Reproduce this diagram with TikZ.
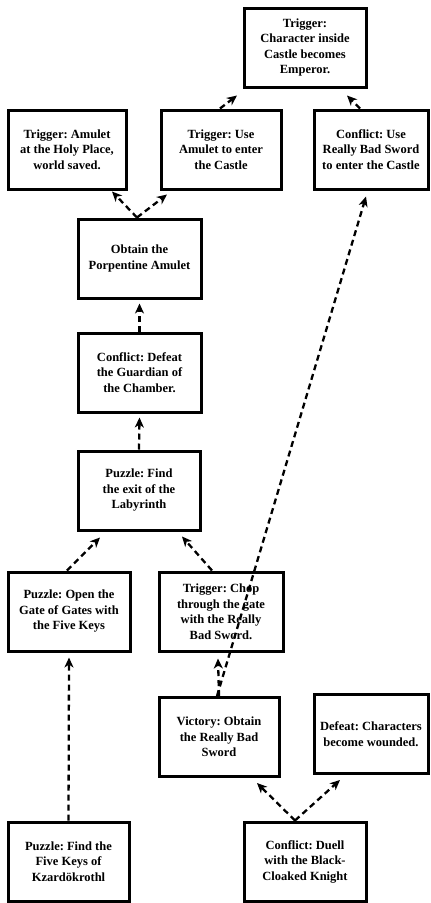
\documentclass[tikz,border=0pt]{standalone}
\usepackage{fontspec}
\setmainfont{Liberation Serif}
\usetikzlibrary{calc,arrows.meta}
\frenchspacing
\tikzset{
  box/.style={draw=black, line width=3pt, fill=white, align=center,
    font=\bfseries\fontsize{12.5}{15.5}\selectfont, inner sep=2pt,
    minimum width=#1, minimum height=79pt},
  box/.default=121pt,
  arr/.style={line width=2.3pt, dash pattern=on 6pt off 4pt,
    -{Stealth[length=10pt,width=9pt,inset=3pt]}}
}
\begin{document}
\begin{tikzpicture}[x=1pt,y=-1pt]
\fill[white] (0,0) rectangle (431,903);
\useasboundingbox (0,0) rectangle (431,903);

\node[box=122pt] (top) at (305,47.5) {Trigger:\\Character inside\\Castle becomes\\Emperor.};
\node[box=118pt] (holy) at (67,149.5) {Trigger: Amulet\\at the Holy Place,\\world saved.};
\node[box=120pt] (useam) at (221,149.5) {Trigger: Use\\Amulet to enter\\the Castle};
\node[box=114pt] (usesw) at (371,149.5) {Conflict: Use\\Really Bad Sword\\to enter the Castle};
\node[box=123pt] (obtain) at (139.5,258.5) {Obtain the\\Porpentine Amulet};
\node[box=123pt] (defeatg) at (139.5,372.5) {Conflict: Defeat\\the Guardian of\\the Chamber.};
\node[box=122pt] (labyr) at (139,490.5) {Puzzle: Find\\the exit of the\\Labyrinth};
\node[box=122pt] (gate) at (69,611.5) {Puzzle: Open the\\Gate of Gates with\\the Five Keys};
\node[box=124pt] (chop) at (221,611.5) {Trigger: Chop\\through the gate\\with the Really\\Bad Sword.};
\node[box=120pt] (victory) at (219,737) {Victory: Obtain\\the Really Bad\\Sword};
\node[box=114pt] (defeatc) at (371,734) {Defeat: Characters\\become wounded.};
\node[box=121pt] (keys) at (68.5,861.5) {Puzzle: Find the\\Five Keys of\\Kzardökrothl};
\node[box=122pt] (duell) at (305,861.5) {Conflict: Duell\\with the Black-\\Cloaked Knight};

\draw[arr] ($(obtain.north)+(-2.5,0)$) -- ($(holy.south)+(45,1)$);
\draw[arr] ($(obtain.north)+(-2.5,0)$) -- ($(useam.south)+(-54,4)$);
\draw[arr] ($(useam.north)+(-1,0)$) -- ($(top.south)+(-68,7)$);
\draw[arr] ($(usesw.north)+(-11,0)$) -- ($(top.south)+(42,7)$);
\draw[arr] ($(victory.north)+(-2,0)$) -- ($(usesw.south)+(-5,6)$);
\draw[arr] (victory.north) -- ($(chop.south)+(-3,6)$);
\draw[arr] ($(chop.north)+(-9,0)$) -- ($(labyr.south)+(43,5)$);
\draw[arr] ($(gate.north)+(-2,0)$) -- ($(labyr.south)+(-39,6)$);
\draw[arr] (keys.north) -- ($(gate.south)+(0,5)$);
\draw[arr] (defeatg.north) -- ($(obtain.south)+(0,4)$);
\draw[arr] (labyr.north) -- ($(defeatg.south)+(0,4)$);
\draw[arr] ($(duell.north)+(-10,0)$) -- ($(victory.south)+(38,5)$);
\draw[arr] ($(duell.north)+(-10,0)$) -- ($(defeatc.south)+(-31,5)$);
\end{tikzpicture}
\end{document}
